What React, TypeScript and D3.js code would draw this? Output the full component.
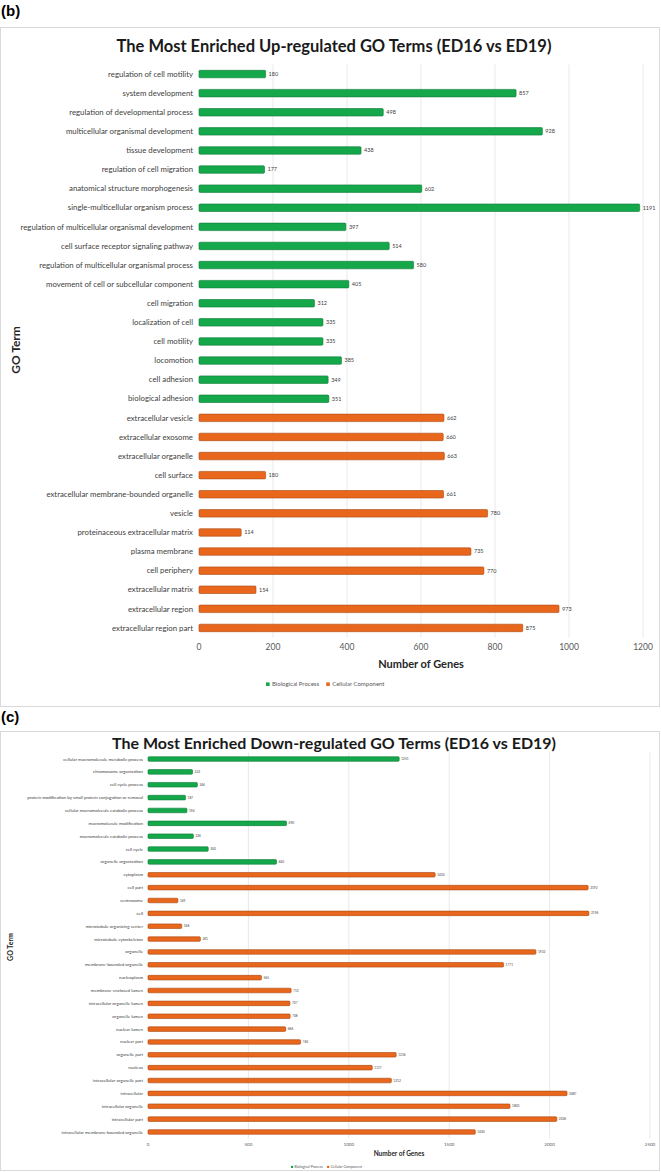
import React, { useRef, useEffect } from 'react';
import * as d3 from 'd3';

// ---- panel (b): up-regulated ----
const upTerms = [
  "regulation of cell motility", "system development", "regulation of developmental process",
  "multicellular organismal development", "tissue development", "regulation of cell migration",
  "anatomical structure morphogenesis", "single-multicellular organism process",
  "regulation of multicellular organismal development", "cell surface receptor signaling pathway",
  "regulation of multicellular organismal process", "movement of cell or subcellular component",
  "cell migration", "localization of cell", "cell motility", "locomotion", "cell adhesion",
  "biological adhesion", "extracellular vesicle", "extracellular exosome", "extracellular organelle",
  "cell surface", "extracellular membrane-bounded organelle", "vesicle",
  "proteinaceous extracellular matrix", "plasma membrane", "cell periphery", "extracellular matrix",
  "extracellular region", "extracellular region part"
];
const upGenes = [180, 857, 498, 928, 438, 177, 602, 1191, 397, 514, 580, 405, 312, 335, 335, 385, 349, 351,
  662, 660, 663, 180, 661, 780, 114, 735, 770, 154, 973, 875];
const upBPCount = 18;
const upTicks = [0, 200, 400, 600, 800, 1000, 1200];

// ---- panel (c): down-regulated ----
const downTerms = [
  "cellular macromolecule metabolic process", "chromosome organization", "cell cycle process",
  "protein modification by small protein conjugation or removal", "cellular macromolecule catabolic process",
  "macromolecule modification", "macromolecule catabolic process", "cell cycle", "organelle organization",
  "cytoplasm", "cell part", "centrosome", "cell", "microtubule organizing center", "microtubule cytoskeleton",
  "organelle", "membrane-bounded organelle", "nucleoplasm", "membrane-enclosed lumen",
  "intracellular organelle lumen", "organelle lumen", "nuclear lumen", "nuclear part", "organelle part",
  "nucleus", "intracellular organelle part", "intracellular", "intracellular organelle", "intracellular part",
  "intracellular membrane-bounded organelle"
];
const downGenes = [1251, 222, 246, 187, 194, 690, 226, 300, 640, 1430, 2192, 149, 2196, 168, 261, 1932, 1771,
  565, 713, 707, 708, 686, 760, 1236, 1117, 1212, 2087, 1803, 2036, 1630];
const downBPCount = 9;
const downTicks = [0, 500, 1000, 1500, 2000, 2500];

const seriesNames = ["Biological Process", "Cellular Component"];
const fills = ["#14a84b", "#e8671d"];
const strokes = ["#0c7a35", "#a9470f"];

const FONT = "Lato, 'Open Sans', sans-serif";

function drawPanel(svg, o) {
  const g = svg.append('g');
  g.append('rect')
    .attr('x', 0.5).attr('y', o.boxTop + 0.5)
    .attr('width', 659).attr('height', o.boxBottom - o.boxTop)
    .attr('fill', 'white').attr('stroke', '#d9d9d9');

  g.append('text').attr('x', 1).attr('y', o.tagY)
    .style('font-family', 'Arial, sans-serif').style('font-weight', 'bold').style('font-size', o.tagSize + 'px')
    .text(o.tag);

  g.append('text').attr('x', 334).attr('y', o.titleY)
    .attr('text-anchor', 'middle')
    .style('font-family', FONT).style('font-weight', 'bold').style('font-size', o.titleSize + 'px')
    .attr('fill', '#1a1a1a')
    .text(o.title);

  const x = d3.scaleLinear().domain([0, o.ticks[o.ticks.length - 1]]).range([o.x0, o.x1]);
  const y = d3.scaleBand().domain(o.terms).range([o.yTop, o.yBottom]).paddingInner(o.pad).paddingOuter(o.pad / 2);

  g.selectAll('line.grid').data(o.ticks.slice(1)).enter().append('line')
    .attr('x1', d => x(d)).attr('x2', d => x(d))
    .attr('y1', o.yTop).attr('y2', o.yBottom)
    .attr('stroke', '#e3e3e3').attr('stroke-width', 0.8);

  g.selectAll('text.tick').data(o.ticks).enter().append('text')
    .attr('x', d => x(d)).attr('y', o.tickY)
    .attr('text-anchor', 'middle')
    .style('font-family', FONT).style('font-size', o.tickSize + 'px').attr('fill', '#595959')
    .text(d => d);

  const rows = o.terms.map((t, i) => ({ term: t, value: o.values[i], s: i < o.bpCount ? 0 : 1 }));

  g.selectAll('rect.bar').data(rows).enter().append('rect')
    .attr('x', x(0))
    .attr('y', d => y(d.term) + (y.bandwidth() - o.barH) / 2)
    .attr('width', d => x(d.value) - x(0))
    .attr('height', o.barH)
    .attr('rx', 1)
    .attr('fill', d => fills[d.s])
    .attr('stroke', d => strokes[d.s]).attr('stroke-width', 0.6);

  g.selectAll('text.cat').data(rows).enter().append('text')
    .attr('x', o.x0 - o.labelGap)
    .attr('y', d => y(d.term) + y.bandwidth() / 2)
    .attr('dy', '0.35em').attr('text-anchor', 'end')
    .style('font-family', FONT).style('font-size', o.labelSize + 'px').attr('fill', '#404040')
    .text(d => d.term);

  g.selectAll('text.val').data(rows).enter().append('text')
    .attr('x', d => x(d.value) + o.valGap)
    .attr('y', d => y(d.term) + y.bandwidth() / 2)
    .attr('dy', '0.35em')
    .style('font-family', FONT).style('font-size', o.valSize + 'px').attr('fill', '#404040')
    .text(d => d.value);

  g.append('text')
    .attr('transform', `translate(${o.yLabelX},${o.yLabelY}) rotate(-90)`)
    .attr('text-anchor', 'middle')
    .style('font-family', FONT).style('font-weight', 'bold').style('font-size', o.yAxisSize + 'px')
    .attr('fill', '#262626')
    .text('GO Term');

  g.append('text').attr('x', (o.x0 + o.x1) / 2).attr('y', o.xLabelY)
    .attr('text-anchor', 'middle')
    .style('font-family', FONT).style('font-weight', 'bold').style('font-size', o.axisSize + 'px')
    .attr('fill', '#262626')
    .text('Number of Genes');

  // legend
  const lg = g.append('g');
  let lx = o.legendX;
  seriesNames.forEach((name, i) => {
    lg.append('rect').attr('x', lx).attr('y', o.legendY - o.legendSize * 0.6)
      .attr('width', o.legendSize * 0.6).attr('height', o.legendSize * 0.6).attr('fill', fills[i]);
    const t = lg.append('text').attr('x', lx + o.legendSize).attr('y', o.legendY)
      .style('font-family', FONT).style('font-size', o.legendSize + 'px').attr('fill', '#595959')
      .text(name);
    lx += o.legendSize + t.node().getComputedTextLength() + o.legendSize * 1.2;
  });
}

const App = () => {
  const svgRef = useRef(null);

  useEffect(() => {
    document.body.style.margin = '0';
    const svg = d3.select(svgRef.current);
    svg.selectAll('*').remove();

    drawPanel(svg, {
      tag: '(b)', tagY: 16, tagSize: 15,
      boxTop: 27, boxBottom: 706,
      title: 'The Most Enriched Up-regulated GO Terms (ED16 vs ED19)', titleY: 52, titleSize: 16.5,
      terms: upTerms, values: upGenes, bpCount: upBPCount, ticks: upTicks,
      x0: 199, x1: 643, yTop: 64.5, yBottom: 637.5, pad: 0.6, barH: 7.5,
      tickY: 650, tickSize: 8.5, labelSize: 7.8, labelGap: 6, valSize: 5.5, valGap: 3,
      yLabelX: 20, yLabelY: 350, yAxisSize: 12, axisSize: 11, xLabelY: 668,
      legendX: 266, legendY: 686, legendSize: 6
    });

    drawPanel(svg, {
      tag: '(c)', tagY: 722, tagSize: 15,
      boxTop: 731, boxBottom: 1170,
      title: 'The Most Enriched Down-regulated GO Terms (ED16 vs ED19)', titleY: 749, titleSize: 16,
      terms: downTerms, values: downGenes, bpCount: downBPCount, ticks: downTicks,
      x0: 148, x1: 650, yTop: 752.6, yBottom: 1138.4, pad: 0.62, barH: 4.6,
      tickY: 1146, tickSize: 4.5, labelSize: 4.4, labelGap: 5, valSize: 3.2, valGap: 2,
      yLabelX: 13, yLabelY: 947, yAxisSize: 7, axisSize: 6.5, xLabelY: 1156,
      legendX: 291, legendY: 1168, legendSize: 3.6
    });
  }, []);

  return <svg ref={svgRef} width={661} height={1172} style={{ display: 'block', background: 'white' }} />;
};

export default App;
